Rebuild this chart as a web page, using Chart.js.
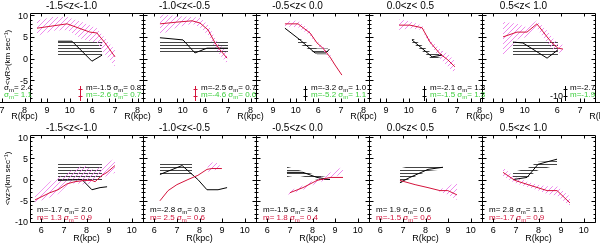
<!DOCTYPE html>
<html>
<head>
<meta charset="utf-8">
<script src="https://cdn.jsdelivr.net/npm/chart.js@4.4.0/dist/chart.umd.min.js"></script>
<style>
html, body { margin: 0; padding: 0; background: #fff; }
#wrap { position: relative; width: 600px; height: 244px; overflow: hidden; background: #fff; }
#wrap canvas { position: absolute; }
</style>
</head>
<body>
<div id="wrap"></div>
<script>
// --- dados ---
const titulos = ['-1.5<z<-1.0', '-1.0<z<-0.5', '-0.5<z< 0.0', '0.0<z< 0.5', '0.5<z< 1.0'];
const rTicks = [6, 7, 8, 9, 10];
const topVTicks = [-5, 0, 5, 10];
const botVTicks = [-10, -5, 0, 5, 10];

// linha superior: <vR>
const topRedR = [
  [5.81, 7.14, 8.15, 8.46, 8.82, 9.26],
  [6.25, 7.0, 7.67, 8.02, 8.38, 8.69, 8.91, 9.22],
  [6.78, 7.36, 7.89, 8.2, 8.46, 8.77, 9.0, 9.3],
  [6.83, 7.31, 7.85, 8.2, 8.64, 8.99, 9.3],
  [6.43, 7.05, 7.49, 7.93, 8.38, 8.6, 8.86, 9.08]
];
const topRedV = [
  [7.0, 8.0, 6.1, 5.9, 3.6, 0.4],
  [8.0, 8.4, 8.7, 8.2, 6.6, 3.6, 2.0, 0.1],
  [8.0, 8.0, 5.9, 3.6, 2.4, 0.4, -1.5, -3.8],
  [7.7, 7.7, 7.1, 3.8, 1.1, -0.3, -1.9],
  [5.0, 6.1, 6.1, 8.0, 5.0, 3.6, 2.4, 2.2]
];
const topPinkR = [
  [5.81, 6.5, 7.14, 7.8, 8.46, 8.82, 9.26],
  [6.25, 7.0, 7.67, 8.02, 8.38, 8.69, 8.91, 9.22],
  [6.78, 7.36, 7.89, 8.2, 8.46, 8.77, 9.0, 9.3],
  [6.83, 7.31, 7.85, 8.2, 8.64, 8.99, 9.3],
  [6.43, 7.05, 7.49, 7.93, 8.38, 8.6, 8.86, 9.08]
];
const topPinkHi = [
  [8.8, 9.6, 9.6, 8.4, 7.0, 4.7, 2.0],
  [10.2, 9.8, 9.6, 9.4, 7.8, 4.8, 3.2, 1.4],
  [8.6, 8.8, 6.4, 4.0, 2.9, 1.0, -1.2, -3.5],
  [9.0, 8.6, 7.6, 4.4, 2.2, 1.2, -0.6],
  [8.5, 8.0, 7.2, 8.8, 6.4, 5.0, 3.4, 3.2]
];
const topPinkLo = [
  [5.2, 6.4, 6.6, 4.5, 3.6, 1.0, -1.8],
  [5.4, 7.2, 8.0, 7.2, 5.4, 2.4, 0.8, -1.2],
  [7.4, 7.2, 5.4, 3.2, 1.9, -0.2, -1.8, -4.1],
  [6.6, 7.0, 6.6, 3.2, 0.0, -1.8, -3.4],
  [0.4, 4.4, 5.0, 7.0, 3.6, 2.2, 1.4, 1.2]
];
const topBlackR = [
  [6.74, 7.36, 8.24, 8.69],
  [6.25, 7.27, 7.8, 8.33, 9.26],
  [6.78, 7.45, 8.11, 8.6, 8.75],
  [7.4, 8.29, 8.73],
  [6.87, 7.31, 8.38, 8.86]
];
const topBlackV = [
  [4.0, 4.0, -0.6, 0.8],
  [4.8, 4.3, 1.3, 2.4, 2.4],
  [7.0, 4.3, 1.3, 1.3, 2.2],
  [4.3, 0.4, 0.8],
  [3.8, 3.6, 0.1, 2.0]
];
const topBandR = [
  [6.74, 8.69],
  [6.25, 9.26],
  [7.36, 8.2, 8.69],
  [7.4, 8.29, 8.73],
  [6.87, 8.86]
];
const topBandHi = [
  [4.3, 4.3],
  [3.8, 3.8],
  [4.8, 2.3, 2.3],
  [4.8, 1.2, 1.6],
  [3.8, 3.8]
];
const topBandLo = [
  [0.4, 0.4],
  [1.3, 1.3],
  [3.6, 1.0, 1.0],
  [3.8, -0.2, 0.4],
  [0.4, 0.4]
];

// linha inferior: <vz>
const botRedR = [
  [5.72, 6.38, 6.74, 7.14, 7.49, 7.93, 8.24, 8.38, 8.69, 8.91, 9.26],
  [6.25, 6.61, 7.0, 7.49, 7.93, 8.33, 8.55, 8.99],
  [7.0, 7.58, 8.2, 8.77, 9.35],
  [6.87, 7.54, 8.11, 8.64, 8.99, 9.39],
  [6.43, 6.96, 7.54, 8.38, 8.82, 9.39]
];
const botRedV = [
  [-4.8, -3.1, -2.4, -1.0, -0.5, -0.2, -0.2, -0.5, 1.0, 1.7, 3.3],
  [-5.0, -2.6, -1.2, 0.0, 1.0, 2.4, 2.6, 2.6],
  [-3.1, -1.9, -0.2, 0.5, 0.5],
  [-0.2, -1.2, -1.9, -2.6, -2.6, -3.6],
  [1.7, -0.2, -1.2, -2.6, -2.6, -5.5]
];
const botPinkR = [
  [5.72, 6.38, 6.74, 7.14, 7.49, 7.93, 8.24, 8.69, 9.26],
  [8.35, 8.6, 8.9],
  [6.9, 7.58, 8.2, 8.77, 9.35],
  [8.6, 9.0, 9.4],
  [6.43, 6.96, 7.54, 8.0, 8.38, 8.82, 9.39]
];
const botPinkHi = [
  [-4.0, -0.5, 0.5, 1.5, 2.6, 3.4, 2.4, 3.0, 5.0],
  [3.6, 4.1, 3.8],
  [-2.8, -1.4, 0.2, 1.6, 3.0],
  [-2.4, -1.6, -0.6],
  [2.8, 0.6, -0.6, -1.2, -1.6, -1.6, -4.0]
];
const botPinkLo = [
  [-5.4, -4.2, -3.4, -1.4, -0.8, -1.2, -0.8, 0.4, 1.6],
  [1.8, 2.2, 2.4],
  [-3.6, -2.4, -0.8, 0.2, 1.4],
  [-2.8, -3.6, -4.8],
  [0.8, -0.8, -1.8, -2.6, -3.4, -3.8, -6.2]
];
const botBlackR = [
  [6.74, 7.8, 8.24, 8.6, 8.91],
  [6.25, 7.23, 7.93, 8.33, 8.82, 9.22],
  [6.87, 7.58, 8.2, 8.77],
  [6.87, 7.31, 8.11, 8.77],
  [6.87, 7.49, 7.98, 8.82]
];
const botBlackV = [
  [-0.2, 0.0, -2.4, -1.9, -1.7],
  [1.2, 3.3, 0.0, -2.4, -2.4, -1.9],
  [1.7, 1.7, 0.5, 0.0],
  [-0.7, 0.5, 2.4, 2.9],
  [0.0, 0.5, 3.6, 4.8]
];
const botBandR = [
  [6.74, 8.69],
  [6.25, 7.67],
  [6.87, 7.3, 8.2, 8.77],
  [6.87, 7.31, 8.11, 8.77],
  [6.87, 7.49, 7.98, 8.82]
];
const botBandHi = [
  [4.0, 4.0],
  [4.0, 4.0],
  [3.0, 2.4, 1.0, 0.4],
  [2.6, 3.2, 3.4, 3.4],
  [1.8, 2.6, 4.2, 4.4]
];
const botBandLo = [
  [-0.3, -0.3],
  [1.0, 1.0],
  [0.6, 1.0, 0.0, -0.6],
  [-0.9, 0.2, 2.0, 2.4],
  [0.0, 0.4, 2.2, 3.4]
];

// textos dos ajustes
const faixaPreto = ['σm= 2.4', 'm=-1.5 σm= 0.8', 'm=-2.5 σm= 0.7', 'm=-3.2 σm= 1.0', 'm=-2.1 σm= 1.3', 'm=-2.7'];
const faixaVerde = ['σm= 1.1', 'm=-2.6 σm= 0.7', 'm=-4.6 σm= 0.6', 'm=-5.2 σm= 1.1', 'm=-1.5 σm= 1.3', 'm=-1.9'];
const baixoPreto = ['m=-1.7 σm= 2.0', 'm=-2.8 σm= 0.3', 'm=-1.5 σm= 3.4', 'm= 1.9 σm= 0.6', 'm= 2.8 σm= 1.1'];
const baixoVermelho = ['m= 1.3 σm= 0.9', 'm= 2.5 σm= 0.6', 'm= 1.8 σm= 0.4', 'm=-1.5 σm= 0.6', 'm=-1.7 σm= 0.9'];

// --- layout ---
const FONTE = 'Liberation Sans';
const VERMELHO = '#d4143c';
const ROSA = '#ee8cee';
const VERDE = '#3ccf3c';
const painelX = [30, 143, 256, 369, 482];
const faixaX = [-32, 81, 194, 307, 423, 546];
const bordaX = [null, 80, 195, 305, 424, 565];
const bordaCor = [null, VERMELHO, VERMELHO, '#000', '#000', '#000'];
const textoX = [4, 86, 201, 311, 430, 570];

Chart.defaults.font.family = FONTE;
Chart.defaults.color = '#000';

const wrap = document.getElementById('wrap');

function padrao(w, h, desenha) {
  const c = document.createElement('canvas');
  c.width = w; c.height = h;
  desenha(c.getContext('2d'));
  return c.getContext('2d').createPattern(c, 'repeat');
}
const hachuraRosa = padrao(5, 5, g => {
  g.fillStyle = ROSA;
  for (let i = 0; i < 5; i++) g.fillRect(i, 4 - i, 1, 1);
});
const hachuraPreta = padrao(4, 3, g => {
  g.fillStyle = '#444';
  g.fillRect(0, 0, 4, 1);
});

function pts(xs, ys) { return xs.map((x, i) => ({ x: x, y: ys[i] })); }

function escreve(ctx, x, y, s, cor) {
  ctx.fillStyle = cor;
  ctx.textBaseline = 'middle';
  ctx.textAlign = 'left';
  const partes = s.split('σm');
  ctx.font = '8px ' + FONTE;
  ctx.fillText(partes[0], x, y);
  if (partes.length < 2) return;
  x += ctx.measureText(partes[0]).width;
  ctx.fillText('σ', x, y);
  x += ctx.measureText('σ').width;
  ctx.font = '6px ' + FONTE;
  ctx.fillText('m', x, y + 2);
  x += ctx.measureText('m').width;
  ctx.font = '8px ' + FONTE;
  ctx.fillText(partes[1], x, y);
}

const moldura = {
  id: 'moldura',
  afterDraw(chart, args, o) {
    const { ctx, chartArea: a } = chart;
    const xs = chart.scales.x, ys = chart.scales.y;
    const L = Math.round(a.left) + 0.5, R = Math.round(a.right) + 0.5;
    const T = Math.round(a.top) + 0.5, B = Math.round(a.bottom) + 0.5;
    ctx.save();
    ctx.strokeStyle = '#000';
    ctx.lineWidth = 1;
    ctx.beginPath();
    if (o.caixa) {
      ctx.rect(L, T, R - L, B - T);
      for (let v = -10; v <= 10; v++) {
        const py = Math.round(ys.getPixelForValue(v)) + 0.5;
        const t = v % 5 === 0 ? 4 : 2;
        ctx.moveTo(L, py); ctx.lineTo(L + t, py);
        ctx.moveTo(R, py); ctx.lineTo(R - t, py);
      }
    } else {
      ctx.moveTo(L - 30, B); ctx.lineTo(R + 30, B);
    }
    for (const v of rTicks) {
      const px = Math.round(xs.getPixelForValue(v)) + 0.5;
      ctx.moveTo(px, B); ctx.lineTo(px, B - 4);
      if (o.caixa) { ctx.moveTo(px, T); ctx.lineTo(px, T + 3); }
    }
    ctx.stroke();
    // rótulos do eixo vertical, posicionados pela escala y
    if (o.rotulosY) {
      ctx.fillStyle = '#000';
      ctx.font = '9px ' + FONTE;
      ctx.textAlign = 'right';
      ctx.textBaseline = 'middle';
      o.rotulosY.forEach(v => ctx.fillText(String(v), a.left - 2, ys.getPixelForValue(v) + 1));
    }
    if (o.borda) {
      const bx = o.borda.x + 0.5;
      ctx.strokeStyle = o.borda.cor;
      ctx.beginPath();
      ctx.moveTo(bx, 86); ctx.lineTo(bx, 101);
      for (const ty of [89.5, 96.5]) { ctx.moveTo(bx - 2, ty); ctx.lineTo(bx + 2, ty); }
      ctx.stroke();
      if (o.borda.rotulo) {
        ctx.fillStyle = '#000';
        ctx.font = '9px ' + FONTE;
        ctx.textAlign = 'right';
        ctx.textBaseline = 'middle';
        ctx.fillText(o.borda.rotulo, o.borda.x - 2, 97);
      }
    }
    (o.textos || []).forEach(t => escreve(ctx, t.x, t.y, t.s, t.c));
    ctx.restore();
  }
};

function criaGrafico(esq, topo, cfg) {
  const c = document.createElement('canvas');
  c.width = 173; c.height = 122;
  c.style.width = '173px'; c.style.height = '122px';
  c.style.left = (esq - 30) + 'px';
  c.style.top = topo + 'px';
  wrap.appendChild(c);
  cfg.plugins = [moldura];
  cfg.options.responsive = false;
  cfg.options.animation = false;
  cfg.options.devicePixelRatio = 1;
  cfg.options.events = [];
  return new Chart(c.getContext('2d'), cfg);
}

function datasetsPainel(redR, redV, pinkR, pinkHi, pinkLo, blkR, blkV, bandR, bandHi, bandLo) {
  const base = { pointRadius: 0, tension: 0 };
  const nada = 'rgba(0,0,0,0)';
  return [
    Object.assign({ data: pts(redR, redV), borderColor: VERMELHO, borderWidth: 1, fill: false }, base),
    Object.assign({ data: pts(blkR, blkV), borderColor: '#000', borderWidth: 1, fill: false }, base),
    Object.assign({ data: pts(pinkR, pinkHi), borderWidth: 0, borderColor: nada, fill: '+1', backgroundColor: hachuraRosa }, base),
    Object.assign({ data: pts(pinkR, pinkLo), borderWidth: 0, borderColor: nada, fill: false }, base),
    Object.assign({ data: pts(bandR, bandHi), borderWidth: 0, borderColor: nada, fill: '+1', backgroundColor: hachuraPreta }, base),
    Object.assign({ data: pts(bandR, bandLo), borderWidth: 0, borderColor: nada, fill: false }, base)
  ];
}

function eixoY(primeiro, titulo) {
  return {
    type: 'linear', min: -10, max: 10.5,
    grid: { display: false, drawTicks: false }, border: { display: false },
    afterFit: s => { s.width = 30; },
    ticks: { display: false },
    title: { display: primeiro, text: titulo, font: { size: 8 }, padding: { top: 3, bottom: 0 } }
  };
}

function eixoX(mostra, altura) {
  return {
    type: 'linear', min: 5.5, max: 10.5, display: mostra,
    grid: { display: false, drawTicks: false }, border: { display: false },
    afterFit: s => { s.height = altura; },
    afterBuildTicks: s => { s.ticks = rTicks.map(v => ({ value: v })); },
    ticks: { font: { size: 9 }, padding: 3, autoSkip: false, maxRotation: 0 },
    title: { display: true, text: 'R(kpc)', font: { size: 9 }, padding: { top: 0, bottom: 0 } }
  };
}

function tituloPainel(t) {
  return { display: true, text: t, font: { size: 10, weight: 'normal', lineHeight: 1.1 },
    padding: { top: 1, bottom: 1 }, color: '#000' };
}

// --- linha de cima ---
for (let k = 0; k < 5; k++) {
  criaGrafico(painelX[k], 0, {
    type: 'line',
    data: { datasets: datasetsPainel(topRedR[k], topRedV[k], topPinkR[k], topPinkHi[k], topPinkLo[k],
      topBlackR[k], topBlackV[k], topBandR[k], topBandHi[k], topBandLo[k]) },
    options: {
      layout: { padding: { left: 0, right: 30, top: 0, bottom: 20 } },
      plugins: { legend: { display: false }, tooltip: { enabled: false }, title: tituloPainel(titulos[k]),
        moldura: { caixa: true, rotulosY: k === 0 ? topVTicks : null } },
      scales: { x: eixoX(false, 0), y: eixoY(k === 0, '<vR>(km sec⁻¹)') }
    }
  });
}

// faixas deslocadas com eixo R e textos dos ajustes
for (let k = 0; k < 6; k++) {
  const esq = faixaX[k] - 30;
  criaGrafico(faixaX[k], 0, {
    type: 'line',
    data: { datasets: [] },
    options: {
      layout: { padding: { left: 0, right: 30, top: 84, bottom: 0 } },
      plugins: { legend: { display: false }, tooltip: { enabled: false },
        moldura: {
          caixa: false,
          borda: bordaX[k] === null ? null : { x: bordaX[k] - esq, cor: bordaCor[k], rotulo: k === 5 ? '-10' : '' },
          textos: [
            { x: textoX[k] - esq, y: 88, s: faixaPreto[k], c: '#000' },
            { x: textoX[k] - esq, y: 95, s: faixaVerde[k], c: VERDE }
          ]
        } },
      scales: {
        x: eixoX(true, 20),
        y: { type: 'linear', min: 0, max: 1, display: true, grid: { display: false }, border: { display: false },
          ticks: { display: false }, afterFit: s => { s.width = 30; } }
      }
    }
  });
}

// --- linha de baixo ---
for (let k = 0; k < 5; k++) {
  criaGrafico(painelX[k], 122, {
    type: 'line',
    data: { datasets: datasetsPainel(botRedR[k], botRedV[k], botPinkR[k], botPinkHi[k], botPinkLo[k],
      botBlackR[k], botBlackV[k], botBandR[k], botBandHi[k], botBandLo[k]) },
    options: {
      layout: { padding: { left: 0, right: 30, top: 0, bottom: 0 } },
      plugins: { legend: { display: false }, tooltip: { enabled: false }, title: tituloPainel(titulos[k]),
        moldura: {
          caixa: true,
          rotulosY: k === 0 ? botVTicks : null,
          textos: [
            { x: 37, y: 88, s: baixoPreto[k], c: '#000' },
            { x: 37, y: 96, s: baixoVermelho[k], c: VERMELHO }
          ]
        } },
      scales: { x: eixoX(true, 22), y: eixoY(k === 0, '<vz>(km sec⁻¹)') }
    }
  });
}
</script>
</body>
</html>
